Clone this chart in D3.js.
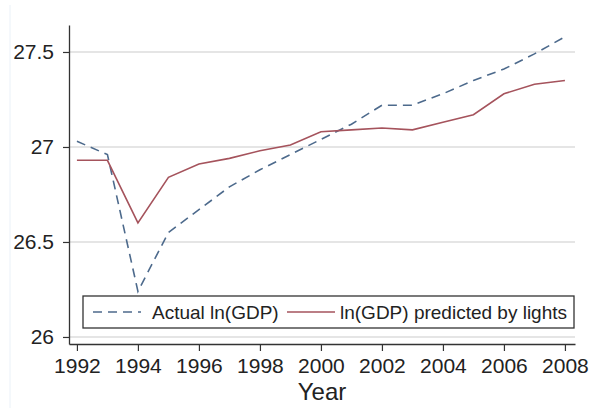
<!DOCTYPE html>
<html>
<head>
<meta charset="utf-8">
<script src="https://cdn.jsdelivr.net/npm/d3@7"></script>
<style>
    body { margin: 0; background: #fff; }
    svg { display: block; font-family: "Liberation Sans", Arial, sans-serif; }
</style>
</head>
<body>
<div id="chart"></div>
<script>
const years = [1992, 1993, 1994, 1995, 1996, 1997, 1998, 1999, 2000,
               2001, 2002, 2003, 2004, 2005, 2006, 2007, 2008];
const actualGDP = [27.03, 26.96, 26.24, 26.55, 26.67, 26.79, 26.88, 26.96, 27.04,
                   27.12, 27.22, 27.22, 27.28, 27.35, 27.41, 27.49, 27.58];
const predictedGDP = [26.93, 26.93, 26.60, 26.84, 26.91, 26.94, 26.98, 27.01, 27.08,
                      27.09, 27.10, 27.09, 27.13, 27.17, 27.28, 27.33, 27.35];
const yTicks = [26, 26.5, 27, 27.5];
const xTicks = [1992, 1994, 1996, 1998, 2000, 2002, 2004, 2006, 2008];
const seriesNames = ["Actual ln(GDP)", "ln(GDP) predicted by lights"];

const colorActual = '#4d6a8c';
const colorPredicted = '#a5535c';

function chart() {
    const width = 592, height = 408;
    const margin = {top: 25, right: 17, bottom: 64, left: 69};
    const w = width - margin.left - margin.right;
    const h = height - margin.top - margin.bottom;

    const svg = d3.select("#chart")
        .append("svg")
        .attr("width", width)
        .attr("height", height);

    // faint edge line seen in the screenshot
    svg.append("line")
        .attr("x1", 10).attr("x2", 10)
        .attr("y1", 5).attr("y2", height)
        .attr("stroke", "#eaf1f8");

    const g = svg.append("g")
        .attr("transform", `translate(${margin.left}, ${margin.top})`);

    const x = d3.scaleLinear().domain([1991.74, 2008.33]).range([0, w]);
    const y = d3.scaleLinear().domain([25.963, 27.642]).range([h, 0]);

    // gridlines
    g.selectAll(".grid")
        .data(yTicks)
        .enter()
        .append("line")
        .attr("x1", 0)
        .attr("x2", w)
        .attr("y1", d => y(d))
        .attr("y2", d => y(d))
        .attr("stroke", "#dcdcdc")
        .attr("stroke-width", 1.5);

    // axes
    const yAxis = g.append("g")
        .call(d3.axisLeft(y).tickValues(yTicks).tickFormat(d3.format("")).tickSize(6).tickSizeOuter(0).tickPadding(9));
    const xAxis = g.append("g")
        .attr("transform", `translate(0, ${h})`)
        .call(d3.axisBottom(x).tickValues(xTicks).tickFormat(d3.format("d")).tickSize(7).tickSizeOuter(0).tickPadding(7));

    [yAxis, xAxis].forEach(a => {
        a.select(".domain").attr("stroke", "#333").attr("stroke-width", 1.3);
        a.selectAll(".tick line").attr("stroke", "#333").attr("stroke-width", 1.2);
        a.selectAll("text").attr("fill", "#222").style("font-size", "21px");
    });

    // axis title
    g.append("text")
        .attr("x", w / 2)
        .attr("y", h + 56)
        .attr("text-anchor", "middle")
        .attr("fill", "#222")
        .style("font-size", "24px")
        .text("Year");

    const line = d3.line()
        .x((d, i) => x(years[i]))
        .y(d => y(d));

    g.append("path")
        .datum(actualGDP)
        .attr("d", line)
        .attr("fill", "none")
        .attr("stroke", colorActual)
        .attr("stroke-width", 1.6)
        .attr("stroke-dasharray", "9,6");

    g.append("path")
        .datum(predictedGDP)
        .attr("d", line)
        .attr("fill", "none")
        .attr("stroke", colorPredicted)
        .attr("stroke-width", 1.6);

    // legend
    const legend = svg.append("g").attr("transform", "translate(83, 296)");
    legend.append("rect")
        .attr("width", 491)
        .attr("height", 32)
        .attr("fill", "#fff")
        .attr("stroke", "#333")
        .attr("stroke-width", 1.3);
    legend.append("line")
        .attr("x1", 10).attr("x2", 58)
        .attr("y1", 16).attr("y2", 16)
        .attr("stroke", colorActual)
        .attr("stroke-width", 1.6)
        .attr("stroke-dasharray", "9,6");
    legend.append("text")
        .attr("x", 69).attr("y", 23)
        .attr("fill", "#222")
        .style("font-size", "19px")
        .text(seriesNames[0]);
    legend.append("line")
        .attr("x1", 204).attr("x2", 252)
        .attr("y1", 16).attr("y2", 16)
        .attr("stroke", colorPredicted)
        .attr("stroke-width", 1.6);
    legend.append("text")
        .attr("x", 257).attr("y", 23)
        .attr("fill", "#222")
        .style("font-size", "19px")
        .text(seriesNames[1]);
}

chart();
</script>
</body>
</html>
